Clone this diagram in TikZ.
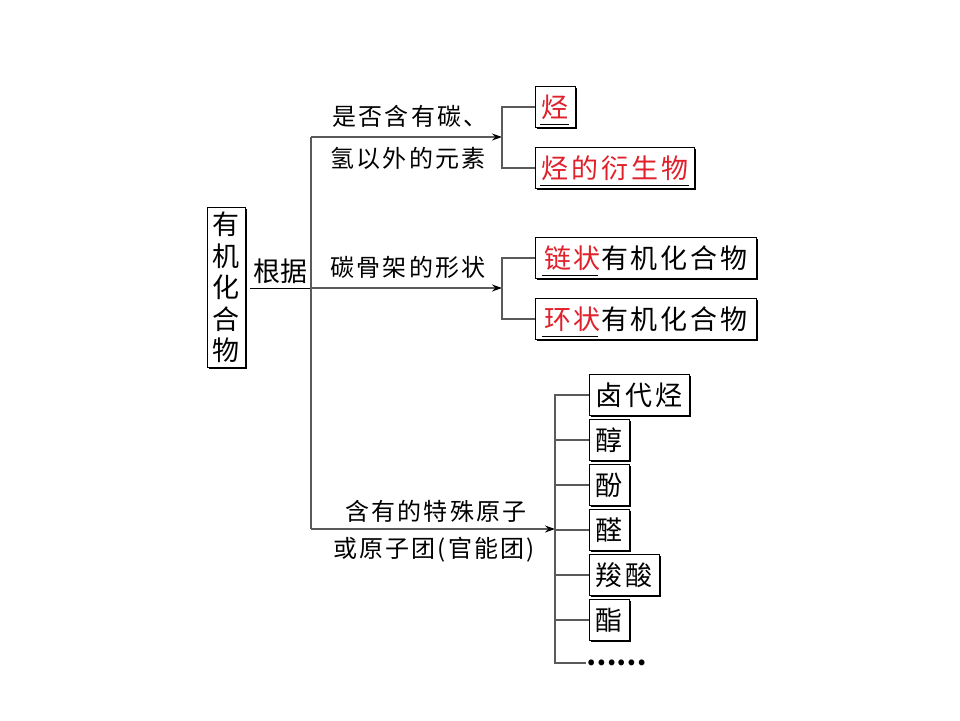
\documentclass[tikz,border=0pt]{standalone}
\usepackage{fontspec}
\setmainfont{Noto Sans CJK SC}
\usetikzlibrary{arrows.meta,shadows}
\definecolor{tred}{HTML}{E0202A}
\definecolor{lgray}{HTML}{5A5A5A}
\newfontfamily\brf[LetterSpace=9]{Noto Sans CJK SC}
\newfontfamily\bxf[LetterSpace=11]{Noto Sans CJK SC}
\tikzset{
  conn/.style={draw=lgray,line width=1.3pt},
  arr/.style={conn,-{Stealth[length=10pt,width=7pt,black]}},
  bx/.style={draw=black,line width=0.9pt,fill=white,anchor=north west,inner sep=0pt,
    minimum height=41pt,font=\fontsize{27}{30}\bxf,
    drop shadow={shadow xshift=1.3pt,shadow yshift=-1.3pt,fill=black,opacity=1}},
  brtxt/.style={inner sep=0pt,font=\fontsize{24}{28}\brf},
  ul/.style={draw=black,line width=1pt},
}
\begin{document}
\begin{tikzpicture}[x=1pt,y=-1pt]
\useasboundingbox (0,0) rectangle (960,720);
% left box
\node[draw=black,line width=0.9pt,anchor=north west,inner sep=0pt,minimum width=38pt,minimum height=160pt,
  align=center,font=\fontsize{27}{31.5}\selectfont,fill=white,
  drop shadow={shadow xshift=1.3pt,shadow yshift=-1.3pt,fill=black,opacity=1}] (org) at (207,207) {有\\机\\化\\合\\物};
\node[inner sep=0pt,anchor=center,font=\fontsize{27}{30}\selectfont] (gj) at (280,271) {根据};
% junctions
\coordinate (g0) at (250,288);
\coordinate (j1) at (311,137);
\coordinate (j2) at (311,288);
\coordinate (j3) at (311,529);
\coordinate (k1) at (502,137);
\coordinate (k2) at (502,288);
\coordinate (k3) at (555,529);
% branch labels
\node[brtxt] (l1a) at (410,116) {是否含有碳、};
\node[brtxt] (l1b) at (408,158) {氢以外的元素};
\node[brtxt] (l2) at (408,267) {碳骨架的形状};
\node[brtxt] (l3a) at (436,511) {含有的特殊原子};
\node[brtxt] (l3b) at (434,550) {或原子团(官能团)};
% target boxes
\node[bx,minimum width=40pt] (t1) at (535,86) {\textcolor{tred}{烃}};
\node[bx,minimum width=159pt] (t2) at (535,147) {\textcolor{tred}{烃的衍生物}};
\node[bx,minimum width=221pt] (t3) at (535,237) {\textcolor{tred}{链状}有机化合物};
\node[bx,minimum width=221pt] (t4) at (535,298) {\textcolor{tred}{环状}有机化合物};
\node[bx,minimum width=100pt] (f1) at (589,374) {卤代烃};
\node[bx,minimum width=40pt] (f2) at (589,419) {醇};
\node[bx,minimum width=40pt] (f3) at (589,464) {酚};
\node[bx,minimum width=40pt] (f4) at (589,509) {醛};
\node[bx,minimum width=70pt] (f5) at (589,554) {羧酸};
\node[bx,minimum width=40pt] (f6) at (589,599) {酯};
\node[inner sep=0pt,anchor=west,font=\fontsize{27}{30}\selectfont\bfseries] (f7) at (586,663) {……};
% underlines
\draw[ul] (540,124) -- (569,124);
\draw[ul] (540,185) -- (689,185);
\draw[ul] (542,275) -- (598,275);
\draw[ul] (542,336) -- (598,336);
% connectors
\draw[conn,draw=black,line width=1pt] (g0) -- (j2);
\draw[conn] (j1) -- (j3);
\draw[arr] (j1) -- (k1);
\draw[arr] (j2) -- (k2);
\draw[arr] (j3) -- (k3);
\draw[conn] (t1.west) -| (k1) |- (t2.west);
\draw[conn] (t3.west) -| (k2) |- (t4.west);
\draw[conn] (f1.west) -| (k3) |- (f7.west);
\foreach \n in {f2,f3,f4,f5,f6} \draw[conn] (k3 |- \n.west) -- (\n.west);
\end{tikzpicture}
\end{document}
